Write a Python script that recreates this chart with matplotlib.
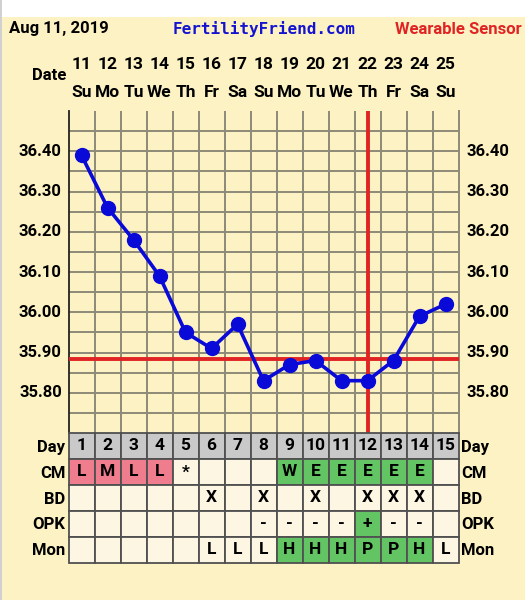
import matplotlib
matplotlib.use("Agg")
import matplotlib.pyplot as plt
from matplotlib.patches import Rectangle

plt.rcParams['font.family'] = ['Roboto', 'DejaVu Sans']
plt.rcParams['font.weight'] = 'bold'

# chart data
days = list(range(1, 16))
dates = [11, 12, 13, 14, 15, 16, 17, 18, 19, 20, 21, 22, 23, 24, 25]
weekdays = ['Su', 'Mo', 'Tu', 'We', 'Th', 'Fr', 'Sa', 'Su', 'Mo', 'Tu', 'We', 'Th', 'Fr', 'Sa', 'Su']
temps = [36.39, 36.26, 36.18, 36.09, 35.95, 35.91, 35.97, 35.83, 35.87, 35.88,
         35.83, 35.83, 35.88, 35.99, 36.02]
coverline = 35.885
ovulation_day = 12
ytick_vals = [35.80, 35.90, 36.00, 36.10, 36.20, 36.30, 36.40]

row_names = ['Day', 'CM', 'BD', 'OPK', 'Mon']
cm = ['L', 'M', 'L', 'L', '*', '', '', '', 'W', 'E', 'E', 'E', 'E', 'E', '']
bd = ['', '', '', '', '', 'X', '', 'X', '', 'X', '', 'X', 'X', 'X', '']
opk = ['', '', '', '', '', '', '', '-', '-', '-', '-', '+', '-', '-', '']
mon = ['', '', '', '', '', 'L', 'L', 'L', 'H', 'H', 'H', 'P', 'P', 'H', 'L']

# colours
BG = '#fdf2c3'
CELL = '#fdf6e3'
PINK = '#ef7d8d'
GREEN = '#62c462'
GRAY = '#c9c9c9'
GRID = '#8d8a78'
RED = '#e02424'
BLUE = '#0a0ad8'

W, H = 525, 600


def fx(x):
    return x / W


def fy(y):
    return 1 - y / H


fig = plt.figure(figsize=(W / 100, H / 100), dpi=100, facecolor=BG)

# white strip on top and grey border on the left, as in the screenshot
fig.patches.append(Rectangle((0, fy(17)), 1, 17 / H, transform=fig.transFigure,
                             facecolor='white', edgecolor='none', zorder=0))
fig.patches.append(Rectangle((0, 0), 2 / W, 1, transform=fig.transFigure,
                             facecolor='#d0d0d0', edgecolor='none', zorder=0))

# header
fig.text(fx(9), fy(29), 'Aug 11, 2019', fontsize=12, ha='left', va='center')
fig.text(fx(264), fy(29), 'FertilityFriend.com', fontsize=11.5, ha='center', va='center',
         family='DejaVu Sans Mono', fontweight='bold', color='#1414d0')
fig.text(fx(522), fy(29), 'Wearable Sensor', fontsize=12, ha='right', va='center', color=RED)

# temperature chart
ax = fig.add_axes([fx(68.5), fy(433), 390 / W, 322 / H])
ax.set_facecolor(BG)
ax.set_xlim(0.5, 15.5)
ax.set_ylim(35.70, 36.50)

ax.set_xticks([d + 0.5 for d in days[:-1]])
ax.set_yticks([35.75 + 0.05 * i for i in range(15)])
ax.tick_params(length=0, labelbottom=False, labelleft=False)
ax.grid(True, color=GRID, linewidth=1.4)
ax.set_axisbelow(True)

for s in ['top', 'bottom']:
    ax.spines[s].set_visible(False)
ax.spines['left'].set_color('#222222')
ax.spines['left'].set_linewidth(1.3)
ax.spines['right'].set_color(GRID)
ax.spines['right'].set_linewidth(1.4)

for v in ytick_vals:
    ax.text(-0.017, v, f'{v:.2f}', transform=ax.get_yaxis_transform(),
            ha='right', va='center', fontsize=12)
    ax.text(1.02, v, f'{v:.2f}', transform=ax.get_yaxis_transform(),
            ha='left', va='center', fontsize=12)

ax.axhline(coverline, color=RED, linewidth=2.8, zorder=3)
ax.axvline(ovulation_day, color=RED, linewidth=2.8, zorder=3)
ax.plot(days, temps, color=BLUE, linewidth=2.6, marker='o', markersize=10, zorder=4)

# date header over the grid
for d, dt, wd in zip(days, dates, weekdays):
    ax.text(d, 1.143, str(dt), transform=ax.get_xaxis_transform(),
            ha='center', va='center', fontsize=12.5)
    ax.text(d, 1.059, wd, transform=ax.get_xaxis_transform(),
            ha='center', va='center', fontsize=12.5)
fig.text(fx(66), fy(76), 'Date', fontsize=12, ha='right', va='center')

# observation table
tax = fig.add_axes([fx(68.5), fy(562.5), 390 / W, 129.5 / H])
tax.set_xlim(0.5, 15.5)
tax.set_ylim(5, 0)
tax.axis('off')

rows = [[str(d) for d in days], cm, bd, opk, mon]
for r, vals in enumerate(rows):
    for d, v in zip(days, vals):
        if r == 0:
            fc = GRAY
        elif r == 1 and v in ('L', 'M'):
            fc = PINK
        elif (r == 1 and v in ('W', 'E')) or (r == 3 and v == '+') or (r == 4 and v in ('H', 'P')):
            fc = GREEN
        else:
            fc = CELL
        tax.add_patch(Rectangle((d - 0.5, r), 1, 1, facecolor=fc,
                                edgecolor='#505050', linewidth=1.3, clip_on=False))
        if v:
            tax.text(d, r + 0.5, v, ha='center', va='center', fontsize=12.5)
    tax.text(-0.008, r + 0.55, row_names[r], transform=tax.get_yaxis_transform(),
             ha='right', va='center', fontsize=12)
    tax.text(1.006, r + 0.55, row_names[r], transform=tax.get_yaxis_transform(),
             ha='left', va='center', fontsize=12)

fig.savefig('out.png', dpi=100, facecolor=BG)
